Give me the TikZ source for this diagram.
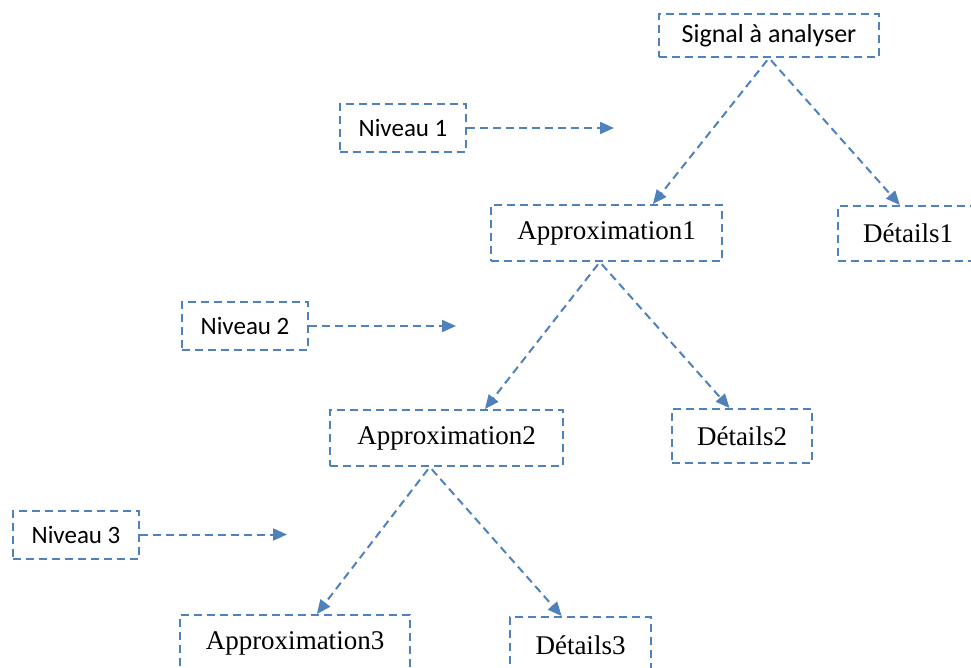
\documentclass[tikz,border=0pt]{standalone}
\usepackage{fontspec}
\setmainfont{Liberation Serif}
\newfontfamily\carlito{Carlito}
\usepackage{tikz}
\usetikzlibrary{arrows.meta, positioning}
\definecolor{bleu}{RGB}{79,129,189}

\begin{document}
\begin{tikzpicture}[x=1pt,y=-1pt,
  boite/.style={draw=bleu, line width=2pt, dash pattern=on 8pt off 5pt, rectangle, inner sep=0pt},
  niv/.style={boite, minimum width=126pt, minimum height=48pt, font=\carlito\fontsize{25}{30}\selectfont},
  coef/.style={boite, minimum height=56pt, font=\fontsize{27}{32}\selectfont},
  fl/.style={draw=bleu, line width=2pt, dash pattern=on 8pt off 5pt, -{Triangle[length=14pt,width=12pt]}}]
\useasboundingbox (0,0) rectangle (971,668);
\clip (0,0) rectangle (971,668);
% arbre de decomposition
\node[boite, minimum width=220pt, minimum height=43pt, font=\carlito\fontsize{26}{31}\selectfont] (sig) at (769,35.5) {Signal à analyser};
\node[coef, minimum width=231pt] (a1) at (606.5,233) {Approximation1};
\node[coef, minimum width=140pt, minimum height=55pt] (d1) at (908,233.5) {Détails1};
\node[coef, minimum width=233pt] (a2) at (446.5,438) {Approximation2};
\node[coef, minimum width=140pt, minimum height=54pt] (d2) at (742,436) {Détails2};
\node[coef, minimum width=230pt] (a3) at (295,643) {Approximation3};
\node[coef, minimum width=141pt] (d3) at (580.5,645) {Détails3};
\draw[fl, shorten <=3pt] (sig.south) -- (a1.32);
\draw[fl, shorten <=3pt] (sig.south) -- (d1.106);
\draw[fl, shorten <=3pt] (a1.257) -- (a2.37);
\draw[fl, shorten <=3pt] (a1.257) -- (d2.114);
\draw[fl, shorten <=3pt] (a2.240) -- (a3.53);
\draw[fl, shorten <=3pt] (a2.240) -- (d3.123);
% niveaux
\foreach \i/\x/\y in {1/403/128, 2/245/326, 3/76/534.5} {
  \node[niv] (n\i) at (\x,\y) {Niveau \i};
  \coordinate[right=147pt of n\i] (t\i);
  \draw[fl] (n\i) -- (t\i);
}
\end{tikzpicture}
\end{document}
